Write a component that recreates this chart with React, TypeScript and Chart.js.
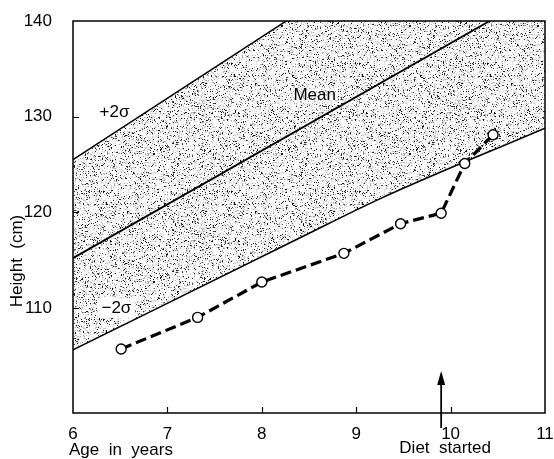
import React, { useEffect, useRef } from "react";
import { Chart, registerables } from "chart.js";

Chart.register(...registerables);

// ---- data ----
const patientAges = [6.51, 7.32, 8.0, 8.87, 9.47, 9.9, 10.15, 10.45];
const patientHeights = [105.7, 109.0, 112.7, 115.7, 118.8, 119.9, 125.1, 128.1];

const plus2Ages = [6, 11];
const plus2Heights = [125.5, 157.6];

const meanAges = [6, 11];
const meanHeights = [115.2, 143.3];

const minus2Ages = [6, 8.4, 9.25, 11];
const minus2Heights = [105.6, 117.3, 121.4, 128.8];

const xTickValues = [6, 7, 8, 9, 10, 11];
const yTickValues = [110, 120, 130, 140];
const innerXTicks = [7, 8, 9, 10];
const innerYTicks = [110, 120, 130];
const dietStartAge = 9.9;

const FONT = '"Liberation Sans", Arial, Helvetica, sans-serif';

function pts(xs: number[], ys: number[]) {
  return xs.map((x, i) => ({ x, y: ys[i] }));
}

function makeStipple(): CanvasPattern | string {
  const size = 128;
  const c = document.createElement("canvas");
  c.width = size;
  c.height = size;
  const g = c.getContext("2d");
  if (!g) return "#d0d0d0";
  const img = g.createImageData(size, size);
  let s = 987654321;
  const rnd = () => {
    s = (Math.imul(s, 1103515245) + 12345) >>> 0;
    return (s >>> 8) / 16777216;
  };
  for (let i = 0; i < size * size; i++) {
    const r = rnd();
    let v = 255;
    if (r < 0.085) v = Math.floor(rnd() * 90);
    else if (r < 0.19) v = 150 + Math.floor(rnd() * 60);
    else if (r < 0.36) v = 215 + Math.floor(rnd() * 30);
    img.data[i * 4] = v;
    img.data[i * 4 + 1] = v;
    img.data[i * 4 + 2] = v;
    img.data[i * 4 + 3] = 255;
  }
  g.putImageData(img, 0, 0);
  const p = g.createPattern(c, "repeat");
  return p || "#d0d0d0";
}

export default function App() {
  const ref = useRef<HTMLCanvasElement | null>(null);

  useEffect(() => {
    if (!ref.current) return;
    const stipple = makeStipple();

    const decor = {
      id: "decor",
      beforeDatasetsDraw(chart: any) {
        const ctx = chart.ctx;
        const xs = chart.scales.x;
        const ys = chart.scales.y;
        ctx.save();
        ctx.font = `17px ${FONT}`;
        ctx.fillStyle = "#000";
        ctx.textAlign = "center";
        ctx.textBaseline = "middle";
        const lblMinus = "\u22122\u03c3";
        const wM = ctx.measureText(lblMinus).width;
        const mx = xs.getPixelForValue(6.46);
        const my = ys.getPixelForValue(110.0);
        ctx.fillStyle = "#fff";
        ctx.fillRect(mx - wM / 2 - 4, my - 10, wM + 8, 20);
        ctx.fillStyle = "#000";
        ctx.fillText(lblMinus, mx, my);
        ctx.fillText("+2\u03c3", xs.getPixelForValue(6.44), ys.getPixelForValue(130.5));
        const wMean = ctx.measureText("Mean").width;
        const meanX = xs.getPixelForValue(8.56);
        const meanY = ys.getPixelForValue(132.2);
        ctx.fillStyle = "rgba(255,255,255,0.6)";
        ctx.fillRect(meanX - wMean / 2 - 2, meanY - 9, wMean + 4, 18);
        ctx.fillStyle = "#000";
        ctx.fillText("Mean", meanX, meanY);
        ctx.restore();
      },
      afterDraw(chart: any) {
        const ctx = chart.ctx;
        const xs = chart.scales.x;
        const ys = chart.scales.y;
        const { left, right, top, bottom } = chart.chartArea;
        ctx.save();
        ctx.strokeStyle = "#000";
        ctx.lineWidth = 1.5;
        ctx.strokeRect(left, top, right - left, bottom - top);
        ctx.beginPath();
        innerXTicks.forEach((v) => {
          const px = Math.round(xs.getPixelForValue(v)) + 0.5;
          ctx.moveTo(px, bottom);
          ctx.lineTo(px, bottom - 6);
        });
        innerYTicks.forEach((v) => {
          const py = Math.round(ys.getPixelForValue(v)) + 0.5;
          ctx.moveTo(left, py);
          ctx.lineTo(left + 6, py);
        });
        ctx.lineWidth = 1.2;
        ctx.stroke();

        // Diet started arrow
        const ax = xs.getPixelForValue(dietStartAge);
        ctx.beginPath();
        ctx.lineWidth = 1.8;
        ctx.moveTo(ax, bottom + 15);
        ctx.lineTo(ax, bottom - 34);
        ctx.stroke();
        ctx.beginPath();
        ctx.moveTo(ax, bottom - 42);
        ctx.lineTo(ax - 4, bottom - 28);
        ctx.lineTo(ax + 4, bottom - 28);
        ctx.closePath();
        ctx.fillStyle = "#000";
        ctx.fill();

        ctx.font = `17px ${FONT}`;
        ctx.textBaseline = "middle";
        ctx.textAlign = "left";
        ctx.fillText("Age  in  years", left - 4, 450);
        ctx.textAlign = "center";
        ctx.fillText("Diet  started", ax + 4, 448);

        ctx.translate(17, 261);
        ctx.rotate(-Math.PI / 2);
        ctx.fillText("Height  (cm)", 0, 0);
        ctx.restore();
      },
    };

    const chart = new Chart(ref.current, {
      type: "line",
      data: {
        datasets: [
          {
            label: "Patient",
            data: pts(patientAges, patientHeights),
            borderColor: "#000",
            borderWidth: 3.2,
            borderDash: [11, 5],
            pointRadius: 5,
            pointBorderWidth: 1.4,
            pointBackgroundColor: "#fff",
            pointBorderColor: "#000",
            fill: false,
            tension: 0,
          },
          {
            label: "+2σ",
            data: pts(plus2Ages, plus2Heights),
            borderColor: "#000",
            borderWidth: 1.5,
            pointRadius: 0,
            fill: { target: 3 },
            backgroundColor: stipple as any,
          },
          {
            label: "Mean",
            data: pts(meanAges, meanHeights),
            borderColor: "#000",
            borderWidth: 1.8,
            pointRadius: 0,
            fill: false,
          },
          {
            label: "-2σ",
            data: pts(minus2Ages, minus2Heights),
            borderColor: "#000",
            borderWidth: 1.5,
            pointRadius: 0,
            fill: false,
            cubicInterpolationMode: "monotone",
          },
        ],
      },
      options: {
        animation: false,
        responsive: false,
        maintainAspectRatio: false,
        layout: { padding: { top: 21, right: 9, left: 0, bottom: 0 } },
        plugins: {
          legend: { display: false },
          tooltip: { enabled: false },
          filler: { drawTime: "beforeDatasetsDraw" } as any,
        },
        scales: {
          x: {
            type: "linear",
            min: 6,
            max: 11,
            grid: { display: false },
            border: { display: false },
            afterBuildTicks: (scale: any) => {
              scale.ticks = xTickValues.map((v) => ({ value: v }));
            },
            afterFit: (scale: any) => {
              scale.height = 46;
              scale.paddingLeft = 0;
              scale.paddingRight = 0;
            },
            ticks: {
              autoSkip: false,
              maxRotation: 0,
              padding: 3,
              color: "#000",
              font: { family: FONT, size: 17 },
            },
          },
          y: {
            type: "linear",
            min: 99,
            max: 140,
            grid: { display: false },
            border: { display: false },
            afterBuildTicks: (scale: any) => {
              scale.ticks = yTickValues.map((v) => ({ value: v }));
            },
            afterFit: (scale: any) => {
              scale.width = 73;
              scale.paddingTop = 0;
              scale.paddingBottom = 0;
            },
            ticks: {
              autoSkip: false,
              padding: 13,
              color: "#000",
              font: { family: FONT, size: 17 },
            },
          },
        },
      },
      plugins: [decor],
    });
    return () => chart.destroy();
  }, []);

  return (
    <div style={{ position: "fixed", left: 0, top: 0, width: 554, height: 459, background: "#fff" }}>
      <canvas ref={ref} width={554} height={459} style={{ width: 554, height: 459, display: "block" }} />
    </div>
  );
}
